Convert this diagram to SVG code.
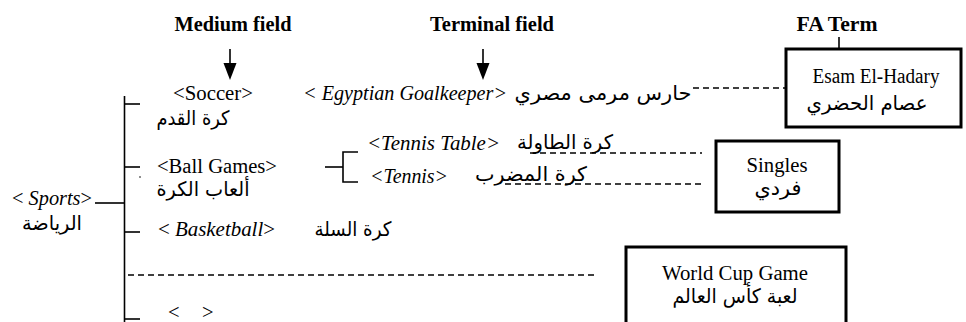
<svg xmlns="http://www.w3.org/2000/svg" width="966" height="322" viewBox="0 0 966 322">
<style>
.lat{font-family:"Liberation Serif","Times New Roman",serif;font-size:20.5px;fill:#000}
.it{font-style:italic}
.hd{font-family:"Liberation Serif","Times New Roman",serif;font-size:20.5px;font-weight:bold;fill:#000}
.ar{font-family:"DejaVu Sans","Noto Sans",sans-serif;font-size:20px;fill:#000}
.ln{stroke:#000;stroke-width:1.6;fill:none}
.dash{stroke:#000;stroke-width:1.3;stroke-dasharray:6 4;fill:none}
.box{stroke:#000;stroke-width:3;fill:#fff}
</style>
<g id="headers">
<text class="hd" x="233" y="31" text-anchor="middle" textLength="117" lengthAdjust="spacingAndGlyphs">Medium field</text>
<text class="hd" x="492" y="31" text-anchor="middle" textLength="124" lengthAdjust="spacingAndGlyphs">Terminal field</text>
<text class="hd" x="837" y="31" text-anchor="middle" textLength="81" lengthAdjust="spacingAndGlyphs">FA Term</text>
</g>
<g id="connectors">
<line class="ln" x1="230" y1="49" x2="230" y2="64"/>
<path d="M223.5,63 L236.5,63 L230,80 Z" fill="#000"/>
<line class="ln" x1="483" y1="49" x2="483" y2="64"/>
<path d="M476.5,63 L489.5,63 L483,80 Z" fill="#000"/>
<line class="ln" x1="839" y1="37" x2="839" y2="50"/>
<path d="M832.5,49 L845.5,49 L839,65 Z" fill="#000"/>
<line class="ln" x1="124.5" y1="96" x2="124.5" y2="322"/>
<line class="ln" x1="124" y1="104" x2="140" y2="104"/>
<line class="ln" x1="124" y1="167" x2="140" y2="167"/>
<line class="ln" x1="95" y1="203" x2="125" y2="203"/>
<line class="ln" x1="124" y1="232" x2="140" y2="232"/>
<line class="ln" x1="124" y1="319" x2="140" y2="319"/>
<circle cx="140" cy="177" r="0.8" fill="#000"/>
<line class="ln" x1="325" y1="167" x2="343" y2="167"/>
<polyline class="ln" points="358,152 343,152 343,182 358,182"/>
<line class="dash" x1="693" y1="88" x2="785" y2="88"/>
<line class="dash" x1="530" y1="153" x2="702" y2="153"/>
<line class="dash" x1="505" y1="184" x2="702" y2="184"/>
<line class="dash" x1="128" y1="275" x2="594" y2="275"/>
</g>
<g id="sports">
<text class="lat" x="52" y="205" text-anchor="middle" textLength="80" lengthAdjust="spacingAndGlyphs">&lt; <tspan class="it">Sports</tspan>&gt;</text>
<text class="ar" x="52" y="230" text-anchor="middle" textLength="60" lengthAdjust="spacingAndGlyphs">الرياضة</text>
</g>
<g id="soccer">
<text class="lat" x="213" y="100" text-anchor="middle" textLength="80" lengthAdjust="spacingAndGlyphs">&lt;Soccer&gt;</text>
<text class="ar" x="193" y="125" text-anchor="middle" textLength="73" lengthAdjust="spacingAndGlyphs">كرة القدم</text>
</g>
<g id="goalkeeper">
<text class="lat it" x="303" y="100" textLength="204" lengthAdjust="spacingAndGlyphs">&lt; Egyptian Goalkeeper&gt;</text>
<text class="ar" x="603" y="100" text-anchor="middle" textLength="177" lengthAdjust="spacingAndGlyphs">حارس مرمى مصري</text>
</g>
<g id="ball-games">
<text class="lat" x="217" y="173" text-anchor="middle" textLength="120" lengthAdjust="spacingAndGlyphs">&lt;Ball Games&gt;</text>
<text class="ar" x="203" y="196" text-anchor="middle" textLength="93" lengthAdjust="spacingAndGlyphs">ألعاب الكرة</text>
</g>
<g id="tennis-table">
<text class="lat it" x="367" y="150" textLength="133" lengthAdjust="spacingAndGlyphs">&lt;Tennis Table&gt;</text>
<text class="ar" x="565" y="149" text-anchor="middle" textLength="96" lengthAdjust="spacingAndGlyphs">كرة الطاولة</text>
</g>
<g id="tennis">
<text class="lat it" x="370" y="183" textLength="78" lengthAdjust="spacingAndGlyphs">&lt;Tennis&gt;</text>
<text class="ar" x="531" y="181" text-anchor="middle" textLength="112" lengthAdjust="spacingAndGlyphs">كرة المضرب</text>
</g>
<g id="basketball">
<text class="lat" x="158" y="236" textLength="117" lengthAdjust="spacingAndGlyphs">&lt; <tspan class="it">Basketball</tspan>&gt;</text>
<text class="ar" x="353" y="236" text-anchor="middle" textLength="77" lengthAdjust="spacingAndGlyphs">كرة السلة</text>
</g>
<g id="empty">
<text class="lat" x="168" y="319">&lt;</text>
<text class="lat" x="202" y="319">&gt;</text>
</g>
<g id="esam">
<rect class="box" x="786" y="49" width="175" height="78"/>
<text class="lat" x="876" y="83" text-anchor="middle" textLength="127" lengthAdjust="spacingAndGlyphs">Esam El-Hadary</text>
<text class="ar" x="867" y="110" text-anchor="middle" textLength="121" lengthAdjust="spacingAndGlyphs">عصام الحضري</text>
</g>
<g id="singles">
<rect class="box" x="716" y="141" width="123" height="71"/>
<text class="lat" x="777" y="172" text-anchor="middle" textLength="61" lengthAdjust="spacingAndGlyphs">Singles</text>
<text class="ar" x="778" y="195" text-anchor="middle" textLength="47" lengthAdjust="spacingAndGlyphs">فردي</text>
</g>
<g id="world-cup">
<rect class="box" x="626" y="247" width="220" height="80"/>
<text class="lat" x="735" y="280" text-anchor="middle" textLength="146" lengthAdjust="spacingAndGlyphs">World Cup Game</text>
<text class="ar" x="735" y="303" text-anchor="middle" textLength="125" lengthAdjust="spacingAndGlyphs">لعبة كأس العالم</text>
</g>
</svg>
